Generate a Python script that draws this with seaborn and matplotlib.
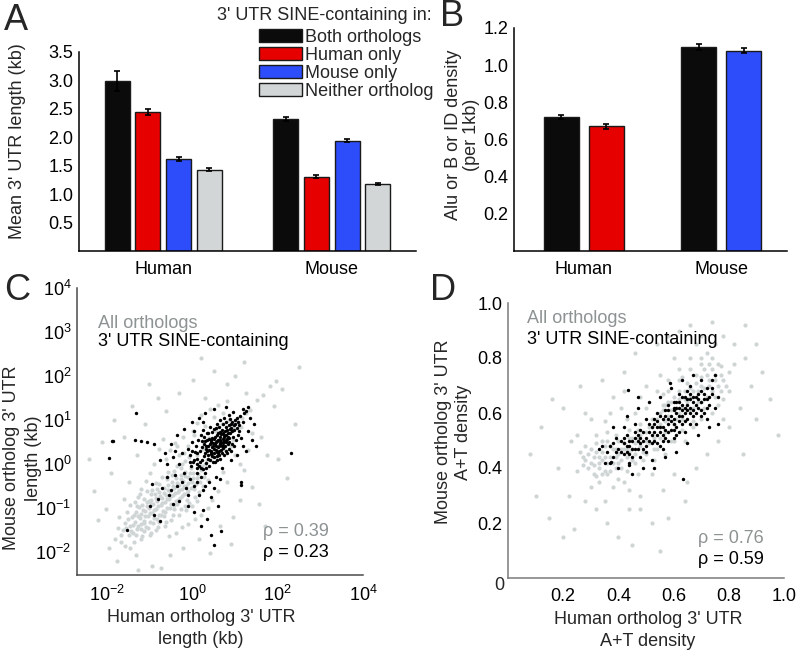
import numpy as np
import pandas as pd
import seaborn as sns
from matplotlib import pyplot as plt
from matplotlib.patches import Patch
from matplotlib.ticker import FixedLocator, LogLocator, NullLocator, NullFormatter

sns.set_theme(style='white')
plt.rcParams['font.family'] = ['Liberation Sans', 'DejaVu Sans']
plt.rcParams['mathtext.default'] = 'regular'

# Panel A: mean 3' UTR length (kb)
species = ['Human', 'Mouse']
groups = ['Both orthologs', 'Human only', 'Mouse only', 'Neither ortholog']
colors = ['#0b0b0b', '#e60000', '#2d4cfa', '#d3d6d6']
length_mean = {'Human': [2.99, 2.44, 1.61, 1.43], 'Mouse': [2.32, 1.31, 1.94, 1.18]}
length_err = {'Human': [0.18, 0.05, 0.035, 0.03], 'Mouse': [0.04, 0.03, 0.03, 0.02]}

# Panel B: SINE density (per 1kb)
b_groups = ['Both orthologs', 'Species only']
density_mean = {'Human': [0.72, 0.67], 'Mouse': [1.098, 1.077]}
density_err = {'Human': [0.01, 0.012], 'Mouse': [0.015, 0.014]}

# Panel C: log10 3' UTR lengths (human, mouse)
c_all = [(-1.62, -1.50), (-1.57, -1.33), (-1.49, -1.62), (-1.46, -1.41), (-1.41, -1.21), (-1.39, -1.56),
         (-1.34, -1.31), (-1.31, -1.08), (-1.29, -1.47), (-1.27, -1.19), (-1.24, -0.98), (-1.21, -1.36),
         (-1.19, -1.13), (-1.17, -0.94), (-1.14, -1.29), (-1.11, -1.06), (-1.09, -1.42), (-1.07, -0.87),
         (-1.04, -1.19), (-1.01, -0.99), (-0.99, -1.31), (-0.97, -0.81), (-0.94, -1.12), (-0.92, -0.91),
         (-0.89, -1.23), (-0.87, -0.69), (-0.84, -1.02), (-0.82, -0.84), (-0.79, -1.16), (-0.77, -0.63),
         (-0.74, -0.93), (-0.72, -0.77), (-0.69, -1.06), (-0.67, -0.54), (-0.64, -0.86), (-0.62, -0.71),
         (-0.59, -0.99), (-0.57, -0.47), (-0.54, -0.79), (-0.52, -0.61), (-0.49, -0.91), (-0.47, -0.41),
         (-0.44, -0.71), (-0.42, -0.54), (-0.39, -0.83), (-0.37, -0.31), (-0.34, -0.63), (-0.32, -0.47),
         (-0.29, -0.76), (-0.27, -0.24), (-0.24, -0.56), (-0.21, -0.39), (-0.19, -0.69), (-0.17, -0.17),
         (-0.14, -0.49), (-0.11, -0.29), (-0.09, -0.61), (-0.04, -0.09), (-0.01, -0.41), (0.01, -0.21),
         (-1.71, -1.21), (-1.66, -1.76), (-1.47, -0.94), (-1.37, -1.77), (-1.26, -0.74), (-1.17, -1.63),
         (-1.06, -0.61), (-0.97, -1.56), (-0.86, -0.44), (-0.81, -1.43), (-0.71, -0.29), (-0.61, -1.31),
         (-0.56, -0.19), (-0.46, -1.16), (-0.36, -0.04), (-0.27, -1.03), (-0.16, 0.06), (-0.07, -0.88),
         (0.06, -0.74), (0.16, -0.63), (0.26, -0.49), (0.36, -0.37), (0.11, -0.31), (0.21, -0.14),
         (0.31, 0.01), (0.46, 0.16), (0.56, 0.29), (0.66, 0.46), (0.76, 0.59), (0.86, 0.76),
         (0.96, 0.84), (1.06, 0.96), (1.16, 1.04), (1.27, 1.17), (1.36, 1.23), (1.52, 1.46),
         (1.66, 1.58), (1.82, 1.77), (1.96, 1.88), (-0.61, 0.11), (-0.51, 0.31), (-0.41, 0.49),
         (-0.31, 0.21), (-0.21, 0.61), (-0.11, 0.41), (0.01, 0.76), (0.11, 0.94), (0.21, 1.11),
         (0.31, 0.86), (0.41, 1.24), (0.51, 1.06), (0.61, 1.34), (0.71, 1.16), (0.81, 1.44),
         (0.91, 0.41), (1.01, 0.21), (1.11, 0.01), (1.21, -0.14), (1.31, 0.31), (1.41, 0.71),
         (0.71, -0.19), (0.81, -0.41), (0.61, -0.61), (0.46, -0.81), (0.36, -0.99), (0.21, -1.16),
         (0.06, -1.24), (-0.09, -1.36), (-0.24, -1.44), (-0.39, -1.56), (-0.54, -1.64), (-0.89, 0.01),
         (-0.99, -0.21), (-1.09, -0.39), (-1.19, -0.56), (-1.29, 0.21), (-1.49, -0.41), (-1.59, -0.79),
         (-0.69, 0.56), (-0.79, 0.34), (-2.41, 0.11), (-2.31, -0.61), (-2.21, -1.26), (-2.11, 0.51),
         (-1.94, -1.91), (-1.91, -0.21), (-1.84, 1.01), (-1.76, -2.21), (-1.61, 0.61), (-1.41, 1.31),
         (-1.31, -2.06), (-1.11, 0.91), (-0.94, -2.31), (-0.81, 1.51), (-0.74, -2.36), (-0.61, 1.21),
         (-0.51, -2.06), (-0.31, 1.61), (-0.21, -1.91), (0.01, 1.91), (0.16, -1.71), (0.31, 1.51),
         (0.41, -2.01), (0.51, 2.11), (0.66, -1.41), (0.81, 1.81), (0.96, -1.21), (1.01, 2.01),
         (1.11, -0.81), (1.26, 1.61), (1.41, -0.51), (1.56, -0.91), (1.61, 0.61), (1.76, 0.21),
         (1.91, 1.31), (2.01, 0.11), (2.11, 1.71), (2.21, -0.31), (2.41, 0.91), (1.71, -1.41),
         (2.51, 2.21), (0.91, -1.81), (-1.01, 1.81), (-2.01, -1.01), (-1.26, -2.41), (0.21, 2.41),
         (1.21, 2.31), (-1.52, -1.08), (-1.33, -0.86), (-1.14, -1.52), (-0.96, -0.68), (-0.77, -1.31),
         (-0.58, -0.34), (-0.43, -1.02), (-0.26, -0.09), (-0.12, -0.81), (0.04, -0.56), (-0.66, -1.18),
         (-0.83, -0.56), (-1.02, -0.84), (-1.22, -0.68), (-0.48, -0.25), (-0.35, -0.9), (-0.18, -0.95),
         (-1.55, -1.45), (-1.50, -1.25), (-1.44, -1.52), (-1.38, -1.38), (-1.36, -1.15), (-1.32, -1.62),
         (-1.28, -1.40), (-1.23, -1.22), (-1.20, -1.48), (-1.16, -1.05), (-1.13, -1.35), (-1.10, -1.18),
         (-1.06, -0.95), (-1.03, -1.45), (-1.00, -1.12), (-0.96, -0.90), (-0.93, -1.35), (-0.90, -1.05),
         (-0.86, -0.78), (-0.83, -1.25), (-0.80, -0.95), (-0.76, -0.72), (-0.73, -1.15), (-0.70, -0.88),
         (-0.66, -0.65), (-0.63, -1.08), (-0.60, -0.80), (-0.56, -0.58), (-0.53, -1.00), (-0.50, -0.72),
         (-0.46, -0.50), (-0.43, -0.92), (-0.40, -0.65), (-0.36, -0.42), (-0.33, -0.82), (-0.30, -0.58),
         (-0.26, -0.35), (-0.23, -0.72), (-0.20, -0.50), (-0.16, -0.28), (-0.13, -0.65), (-0.10, -0.42),
         (-0.06, -0.20), (-0.03, -0.55), (0.02, -0.32), (0.08, -0.45), (0.14, -0.22), (0.18, -0.40),
         (0.24, -0.05), (0.28, -0.30), (-1.30, -0.95), (-1.12, -0.80), (-0.95, -0.60), (-0.78, -0.45),
         (-0.60, -0.30), (-0.42, -0.15), (-0.25, 0.00), (-0.08, 0.15), (-1.20, -1.70), (-1.00, -1.60),
         (-0.85, -1.50), (-0.65, -1.40), (-0.50, -1.28), (-0.30, -1.15), (-0.15, -1.05), (0.00, -0.95),
         (0.12, -0.85), (-1.68, -1.60), (-1.75, -1.45), (-1.58, -1.85), (-1.45, -1.90), (-1.80, -1.70),
         (0.10, 0.20), (0.25, 0.35), (0.40, 0.60), (0.55, 0.75), (0.70, 0.90), (0.85, 1.00), (0.35, 0.10),
         (0.55, 0.15), (0.75, 0.35), (0.95, 0.55), (1.15, 0.85), (-0.20, 0.25), (-0.35, 0.40), (0.05, 0.65)]
c_sine = [(0.05, 0.10), (0.12, 0.25), (0.18, 0.05), (0.22, 0.38), (0.28, 0.18), (0.31, 0.52), (0.35, 0.30),
          (0.38, 0.12), (0.42, 0.45), (0.44, 0.22), (0.47, 0.60), (0.50, 0.35), (0.52, 0.15), (0.55, 0.50),
          (0.58, 0.28), (0.60, 0.70), (0.62, 0.42), (0.65, 0.55), (0.67, 0.32), (0.70, 0.78), (0.72, 0.48),
          (0.74, 0.62), (0.77, 0.40), (0.80, 0.85), (0.82, 0.58), (0.84, 0.70), (0.87, 0.50), (0.90, 0.92),
          (0.93, 0.75), (0.96, 0.62), (1.00, 1.00), (1.04, 0.82), (1.08, 0.95), (1.12, 1.10), (0.15, -0.05),
          (0.25, -0.12), (0.32, 0.02), (0.40, -0.05), (0.48, 0.05), (0.57, 0.10), (0.63, 0.20), (0.70, 0.25),
          (0.78, 0.30), (0.86, 0.35), (0.94, 0.45), (1.02, 0.55), (0.08, 0.40), (0.14, 0.55), (0.20, 0.65),
          (0.26, 0.78), (0.34, 0.70), (0.41, 0.85), (0.50, 0.80), (0.57, 0.92), (0.66, 1.00), (0.75, 1.05),
          (0.85, 1.12), (0.95, 1.18), (-0.05, 0.20), (-0.10, 0.35), (-0.02, -0.05), (0.00, 0.50),
          (0.10, -0.20), (0.20, -0.30), (0.30, -0.20), (0.36, 0.42), (0.46, 0.38), (0.53, 0.62), (0.61, 0.55),
          (0.68, 0.68), (0.73, 0.36), (0.79, 0.65), (0.88, 0.80), (0.98, 0.88), (0.39, 0.58), (0.43, 0.28),
          (0.49, 0.48), (0.56, 0.40), (0.64, 0.45), (0.71, 0.58), (0.27, 0.45), (0.24, 0.10), (0.33, 0.35),
          (0.59, 0.18), (0.66, 0.72), (0.83, 0.45), (1.10, 0.75), (1.15, 0.60), (1.20, 0.40), (1.25, 1.20),
          (-0.30, 0.00), (-0.40, -0.25), (-0.25, -0.40), (-0.15, -0.55), (-0.05, -0.35), (0.05, -0.50),
          (0.15, -0.70), (0.25, -0.60), (0.40, -0.40), (0.55, -0.30), (0.70, -0.10), (0.90, 0.10),
          (1.05, 0.20), (1.30, 0.75), (1.40, 0.55), (1.50, 0.40), (-0.50, 0.45), (-0.35, 0.65), (-0.20, 0.80),
          (0.00, 0.95), (0.15, 1.05), (0.30, 1.15), (-0.60, -0.30), (-0.70, -0.55), (-0.55, -0.70),
          (-0.45, -0.90), (-0.30, -0.85), (-0.10, -0.95), (0.05, -1.10), (0.25, -1.05), (0.45, -0.75),
          (0.60, -0.95), (-0.80, -0.80), (-0.95, -0.45), (-0.65, 0.25), (-0.90, 0.45), (-1.05, 0.50),
          (-1.20, 0.52), (-1.35, 0.55), (-0.75, 0.10), (-0.45, 0.15), (0.80, 1.30), (0.50, 1.25),
          (1.15, -0.40), (0.35, -1.25), (0.10, -0.10), (-1.31, 1.17), (-1.88, 0.53), (-1.96, 0.13),
          (-1.85, 0.52), (2.31, 0.26), (0.51, -1.84), (-1.53, -1.50), (0.67, -1.52), (1.14, -0.48),
          (1.22, 1.15), (-0.90, -1.15), (-0.75, -1.30), (0.20, -1.40), (0.45, -1.60), (-1.00, -0.95),
          (0.30, 0.25), (0.33, 0.40), (0.37, 0.20), (0.40, 0.32), (0.43, 0.50), (0.45, 0.30), (0.48, 0.42),
          (0.51, 0.25), (0.53, 0.45), (0.56, 0.33), (0.59, 0.52), (0.61, 0.38), (0.64, 0.62), (0.66, 0.48),
          (0.69, 0.40), (0.71, 0.70), (0.74, 0.52), (0.76, 0.75), (0.78, 0.55), (0.81, 0.78), (0.83, 0.62),
          (0.86, 0.88), (0.89, 0.70), (0.91, 0.82), (0.94, 0.95), (0.97, 0.78), (1.01, 0.92), (1.05, 1.05),
          (0.45, 0.55), (0.52, 0.58), (0.58, 0.65), (0.62, 0.30), (0.68, 0.50), (0.72, 0.42), (0.75, 0.65),
          (0.80, 0.50), (0.85, 0.60), (0.42, 0.10), (0.47, 0.18), (0.53, 0.05), (0.35, 0.55), (0.28, 0.62),
          (0.22, 0.52), (0.18, 0.30), (0.12, 0.12), (0.07, 0.28), (0.02, 0.05), (0.38, 0.70), (0.46, 0.72),
          (0.55, 0.82), (0.63, 0.85), (0.71, 0.92), (0.79, 0.95), (0.88, 1.02), (0.60, 0.25), (0.65, 0.12),
          (0.75, 0.20), (0.82, 0.25), (0.90, 0.30), (0.98, 0.40), (1.06, 0.65), (1.10, 0.88), (1.18, 0.95),
          (1.20, 1.25), (1.30, 1.30), (0.20, -0.10), (0.10, 0.00), (0.00, 0.30), (-0.05, 0.05), (0.32, -0.08),
          (-0.20, -0.20), (-0.35, -0.50), (-0.10, -0.70), (0.10, -0.40), (0.30, -0.50), (0.50, -0.55),
          (0.65, -0.35), (-0.50, -0.60), (-0.60, 0.00), (-0.25, 0.25), (-0.40, 0.30), (0.05, 0.75),
          (0.25, 0.95), (1.35, 1.05), (1.45, 0.90), (1.25, 0.30)]

# Panel D: A+T density (human, mouse)
d_all = [(0.30, 0.42), (0.32, 0.46), (0.33, 0.40), (0.34, 0.50), (0.35, 0.44), (0.36, 0.38), (0.37, 0.48),
         (0.38, 0.42), (0.39, 0.52), (0.40, 0.45), (0.41, 0.40), (0.42, 0.49), (0.43, 0.44), (0.44, 0.54),
         (0.45, 0.47), (0.46, 0.42), (0.47, 0.51), (0.48, 0.56), (0.49, 0.46), (0.50, 0.53), (0.51, 0.49),
         (0.52, 0.58), (0.53, 0.51), (0.54, 0.47), (0.55, 0.56), (0.56, 0.61), (0.57, 0.53), (0.58, 0.59),
         (0.59, 0.64), (0.60, 0.56), (0.61, 0.62), (0.62, 0.68), (0.63, 0.58), (0.64, 0.65), (0.65, 0.71),
         (0.66, 0.61), (0.67, 0.68), (0.68, 0.74), (0.69, 0.64), (0.70, 0.70), (0.71, 0.76), (0.72, 0.66),
         (0.73, 0.72), (0.74, 0.68), (0.75, 0.74), (0.76, 0.70), (0.77, 0.77), (0.31, 0.38), (0.29, 0.45),
         (0.27, 0.41), (0.33, 0.35), (0.28, 0.48), (0.36, 0.53), (0.40, 0.36), (0.43, 0.58), (0.47, 0.38),
         (0.50, 0.62), (0.53, 0.43), (0.56, 0.67), (0.60, 0.50), (0.63, 0.73), (0.67, 0.55), (0.70, 0.78),
         (0.74, 0.60), (0.78, 0.72), (0.78, 0.65), (0.80, 0.75), (0.72, 0.82), (0.66, 0.80), (0.62, 0.76),
         (0.58, 0.72), (0.54, 0.68), (0.50, 0.45), (0.46, 0.60), (0.42, 0.35), (0.38, 0.33), (0.35, 0.57),
         (0.32, 0.52), (0.26, 0.46), (0.25, 0.39), (0.30, 0.33), (0.44, 0.32), (0.52, 0.38), (0.57, 0.45),
         (0.64, 0.50), (0.70, 0.58), (0.76, 0.63), (0.80, 0.68), (0.82, 0.78), (0.75, 0.85), (0.68, 0.85),
         (0.60, 0.80), (0.55, 0.74), (0.48, 0.66), (0.41, 0.62), (0.37, 0.60), (0.34, 0.43), (0.39, 0.47),
         (0.45, 0.51), (0.51, 0.55), (0.57, 0.63), (0.62, 0.60), (0.66, 0.66), (0.70, 0.64), (0.73, 0.78),
         (0.10, 0.30), (0.12, 0.55), (0.15, 0.22), (0.18, 0.40), (0.20, 0.62), (0.22, 0.30), (0.23, 0.50),
         (0.24, 0.18), (0.26, 0.70), (0.28, 0.28), (0.30, 0.58), (0.32, 0.25), (0.34, 0.72), (0.36, 0.20),
         (0.38, 0.66), (0.40, 0.15), (0.42, 0.75), (0.44, 0.25), (0.46, 0.82), (0.48, 0.30), (0.50, 0.70),
         (0.52, 0.20), (0.54, 0.85), (0.56, 0.32), (0.58, 0.88), (0.60, 0.38), (0.62, 0.90), (0.64, 0.28),
         (0.66, 0.92), (0.68, 0.40), (0.70, 0.88), (0.72, 0.45), (0.74, 0.93), (0.76, 0.50), (0.78, 0.88),
         (0.80, 0.55), (0.82, 0.85), (0.84, 0.62), (0.86, 0.80), (0.88, 0.70), (0.90, 0.58), (0.92, 0.75),
         (0.95, 0.65), (0.98, 0.52), (0.85, 0.45), (0.20, 0.15), (0.16, 0.65), (0.08, 0.45), (0.55, 0.10),
         (0.45, 0.12), (0.58, 0.22), (0.86, 0.92), (0.65, 0.35), (0.28, 0.60), (0.42, 0.68), (0.35, 0.28),
         (0.25, 0.52), (0.48, 0.25), (0.78, 0.58), (0.90, 0.85),
         (0.29, 0.40), (0.31, 0.44), (0.32, 0.49), (0.33, 0.42), (0.34, 0.46), (0.35, 0.39), (0.36, 0.50),
         (0.37, 0.44), (0.38, 0.47), (0.39, 0.40), (0.40, 0.50), (0.41, 0.43), (0.42, 0.47), (0.43, 0.39),
         (0.44, 0.51), (0.45, 0.43), (0.46, 0.45), (0.47, 0.54), (0.48, 0.48), (0.49, 0.43), (0.31, 0.41),
         (0.33, 0.44), (0.35, 0.48), (0.37, 0.39), (0.39, 0.44), (0.41, 0.47), (0.28, 0.43), (0.30, 0.47),
         (0.27, 0.44), (0.32, 0.37), (0.34, 0.38), (0.36, 0.42), (0.40, 0.42), (0.43, 0.47), (0.55, 0.60),
         (0.57, 0.57), (0.59, 0.61), (0.61, 0.58), (0.63, 0.62), (0.65, 0.64), (0.67, 0.62), (0.69, 0.68),
         (0.71, 0.69), (0.73, 0.70), (0.75, 0.72), (0.77, 0.74), (0.72, 0.74), (0.74, 0.76), (0.76, 0.78),
         (0.70, 0.73), (0.68, 0.71), (0.66, 0.69), (0.64, 0.68), (0.62, 0.65), (0.60, 0.66), (0.58, 0.64),
         (0.56, 0.63), (0.54, 0.58), (0.52, 0.55), (0.50, 0.50), (0.48, 0.52), (0.46, 0.49), (0.44, 0.46),
         (0.53, 0.47), (0.55, 0.51), (0.59, 0.50), (0.63, 0.54), (0.67, 0.57), (0.71, 0.62), (0.75, 0.66),
         (0.77, 0.68), (0.79, 0.70), (0.74, 0.80), (0.70, 0.80), (0.66, 0.76), (0.62, 0.72), (0.58, 0.68)]
d_sine = [(0.40, 0.47), (0.41, 0.50), (0.42, 0.45), (0.43, 0.52), (0.44, 0.48), (0.45, 0.44), (0.46, 0.51),
          (0.47, 0.47), (0.48, 0.54), (0.49, 0.50), (0.50, 0.46), (0.51, 0.53), (0.52, 0.49), (0.53, 0.56),
          (0.54, 0.52), (0.55, 0.48), (0.56, 0.55), (0.57, 0.59), (0.58, 0.53), (0.59, 0.57), (0.60, 0.61),
          (0.61, 0.55), (0.62, 0.59), (0.63, 0.63), (0.64, 0.57), (0.65, 0.61), (0.66, 0.65), (0.67, 0.59),
          (0.68, 0.63), (0.69, 0.67), (0.70, 0.61), (0.71, 0.65), (0.72, 0.69), (0.73, 0.63), (0.74, 0.67),
          (0.75, 0.62), (0.37, 0.48), (0.38, 0.44), (0.39, 0.51), (0.36, 0.46), (0.35, 0.42), (0.34, 0.48),
          (0.33, 0.47), (0.37, 0.42), (0.42, 0.55), (0.44, 0.42), (0.46, 0.56), (0.48, 0.44), (0.50, 0.58),
          (0.52, 0.43), (0.54, 0.60), (0.56, 0.47), (0.58, 0.63), (0.60, 0.51), (0.62, 0.67), (0.64, 0.53),
          (0.66, 0.70), (0.68, 0.56), (0.70, 0.72), (0.72, 0.58), (0.74, 0.72), (0.76, 0.66), (0.73, 0.55),
          (0.69, 0.52), (0.65, 0.49), (0.61, 0.46), (0.57, 0.44), (0.53, 0.40), (0.49, 0.40), (0.45, 0.38),
          (0.43, 0.59), (0.47, 0.62), (0.51, 0.64), (0.55, 0.66), (0.59, 0.69), (0.63, 0.72), (0.67, 0.74),
          (0.71, 0.60), (0.60, 0.58), (0.62, 0.62), (0.64, 0.60), (0.66, 0.62), (0.61, 0.64), (0.63, 0.56),
          (0.65, 0.58), (0.67, 0.64), (0.58, 0.56), (0.56, 0.58), (0.54, 0.55), (0.52, 0.52), (0.50, 0.51),
          (0.48, 0.49), (0.46, 0.47), (0.44, 0.45), (0.42, 0.49), (0.57, 0.51), (0.55, 0.53), (0.53, 0.50),
          (0.59, 0.54), (0.61, 0.52), (0.63, 0.66), (0.65, 0.68), (0.68, 0.60), (0.70, 0.64), (0.72, 0.62),
          (0.60, 0.64), (0.58, 0.61), (0.634, 0.359), (0.435, 0.684), (0.586, 0.708), (0.374, 0.423),
          (0.40, 0.40), (0.38, 0.55), (0.76, 0.56), (0.75, 0.74), (0.47, 0.66), (0.44, 0.41),
          (0.41, 0.46), (0.43, 0.48), (0.45, 0.50), (0.47, 0.52), (0.49, 0.47), (0.51, 0.50), (0.53, 0.53),
          (0.55, 0.55), (0.57, 0.54), (0.59, 0.59), (0.61, 0.60), (0.63, 0.59), (0.65, 0.63), (0.67, 0.61),
          (0.69, 0.62), (0.71, 0.67), (0.73, 0.66), (0.62, 0.57), (0.64, 0.62), (0.66, 0.60), (0.60, 0.56),
          (0.58, 0.58), (0.56, 0.52), (0.54, 0.57), (0.52, 0.55), (0.50, 0.48), (0.48, 0.51), (0.46, 0.53),
          (0.44, 0.50), (0.42, 0.51), (0.39, 0.46), (0.38, 0.49), (0.61, 0.62), (0.63, 0.61), (0.65, 0.65),
          (0.67, 0.66), (0.69, 0.65), (0.62, 0.64), (0.64, 0.66), (0.66, 0.67), (0.68, 0.66), (0.70, 0.68),
          (0.72, 0.65), (0.74, 0.69), (0.60, 0.62), (0.57, 0.61), (0.55, 0.59), (0.53, 0.58), (0.51, 0.56),
          (0.49, 0.53), (0.47, 0.50), (0.45, 0.47), (0.43, 0.46), (0.58, 0.50), (0.62, 0.53), (0.66, 0.56),
          (0.70, 0.59), (0.56, 0.50), (0.54, 0.49), (0.60, 0.54)]

rho_c = ['ρ = 0.39', 'ρ = 0.23']
rho_d = ['ρ = 0.76', 'ρ = 0.59']

W, H = 796, 650
FS = 13
GRAY_PT = '#cfd4d4'
GRAY_TXT = '#8d9292'

fig = plt.figure(figsize=(W / 100, H / 100), dpi=100)


def px_axes(left, top, right, bottom):
  return fig.add_axes([left / W, 1 - bottom / H, (right - left) / W, (bottom - top) / H])


def style_axes(ax, color='black'):
  for side in ['top', 'right']:
    ax.spines[side].set_visible(False)
  for side in ['left', 'bottom']:
    ax.spines[side].set_color(color)
    ax.spines[side].set_linewidth(1.1)
  ax.tick_params(direction='in', length=4, width=1, color=color, labelsize=FS, labelcolor='black', pad=4)
  ax.tick_params(which='minor', direction='in', length=2, width=0.7, color=color)


def errbars(ax, errs, hue_levels):
  for container, lvl in zip(ax.containers, hue_levels):
    i = hue_levels.index(lvl)
    for bar, sp in zip(container, species):
      ax.errorbar(bar.get_x() + bar.get_width() / 2, bar.get_height(), yerr=errs[sp][i],
                  fmt='none', ecolor='black', elinewidth=1.2, capsize=2.5, capthick=1.2, zorder=5)


# ---- A ----
axA = px_axes(79, 52, 416, 251)
dfA = pd.DataFrame([(sp, g, length_mean[sp][i]) for sp in species for i, g in enumerate(groups)],
                   columns=['species', 'group', 'mean'])
sns.barplot(data=dfA, x='species', y='mean', hue='group', hue_order=groups, palette=colors, saturation=1,
            width=0.73, gap=0.19, edgecolor='#1a1a1a', linewidth=1, errorbar=None, legend=False, ax=axA)
errbars(axA, length_err, groups)
axA.set_xlim(-0.5, 1.5)
axA.set_ylim(0, 3.5)
axA.set_yticks([0.5, 1.0, 1.5, 2.0, 2.5, 3.0, 3.5])
axA.set_yticklabels(['0.5', '1.0', '1.5', '2.0', '2.5', '3.0', '3.5'])
axA.set_xlabel('')
axA.set_ylabel('')
style_axes(axA)
axA.tick_params(axis='x', pad=7)
fig.text(18 / W, 1 - 141 / H, "Mean 3' UTR length (kb)", rotation=90, ha='center', va='center', fontsize=FS)

fig.text(217 / W, 1 - 15 / H, "3' UTR SINE-containing in:", ha='left', va='center', fontsize=FS)
handles = [Patch(facecolor=c, edgecolor='#1a1a1a', linewidth=1) for c in colors]
fig.legend(handles, groups, loc='upper left', bbox_to_anchor=(259 / W, 1 - 29 / H), frameon=False,
           fontsize=FS, handlelength=2.4, handleheight=0.75, handletextpad=0.15, labelspacing=0.05,
           borderpad=0, borderaxespad=0)

# ---- B ----
axB = px_axes(514, 28, 787, 251)
dfB = pd.DataFrame([(sp, g, density_mean[sp][i]) for sp in species for i, g in enumerate(b_groups)],
                   columns=['species', 'group', 'mean'])
sns.barplot(data=dfB, x='species', y='mean', hue='group', hue_order=b_groups, saturation=1,
            palette=[colors[0], colors[1]], width=0.656, gap=0.22, edgecolor='#1a1a1a', linewidth=1,
            errorbar=None, legend=False, ax=axB)
# species-specific bars: human red, mouse blue
for bar, c in zip(axB.containers[1], [colors[1], colors[2]]):
  bar.set_facecolor(c)
errbars(axB, density_err, b_groups)
axB.set_xlim(-0.51, 1.48)
axB.set_ylim(0, 1.2)
axB.set_yticks([0.2, 0.4, 0.6, 0.8, 1.0, 1.2])
axB.set_yticklabels(['0.2', '0.4', '0.6', '0.8', '1.0', '1.2'])
axB.set_xlabel('')
axB.set_ylabel('')
style_axes(axB)
axB.tick_params(axis='x', pad=7)
fig.text(453 / W, 1 - 135 / H, 'Alu or B or ID density', rotation=90, ha='center', va='center', fontsize=FS)
fig.text(472 / W, 1 - 135 / H, '(per 1kb)', rotation=90, ha='center', va='center', fontsize=FS)

# ---- C ----
axC = px_axes(77, 288, 363, 575)
ca = np.array(c_all)
cs = np.array(c_sine)
sns.scatterplot(x=10 ** ca[:, 0], y=10 ** ca[:, 1], color=GRAY_PT, s=9, linewidth=0, ax=axC)
sns.scatterplot(x=10 ** cs[:, 0], y=10 ** cs[:, 1], color='black', s=6, linewidth=0, ax=axC)
axC.set_xscale('log')
axC.set_yscale('log')
axC.set_xlim(10 ** -2.7, 1e4)
axC.set_ylim(10 ** -2.52, 1e4)
axC.xaxis.set_major_locator(FixedLocator([1e-2, 1, 1e2, 1e4]))
axC.xaxis.set_minor_locator(NullLocator())
axC.yaxis.set_major_locator(FixedLocator([1e-2, 1e-1, 1, 1e1, 1e2, 1e3, 1e4]))
axC.yaxis.set_minor_locator(LogLocator(base=10, subs=np.arange(2, 10), numticks=20))
axC.yaxis.set_minor_formatter(NullFormatter())
style_axes(axC, '#4a4a4a')
axC.tick_params(axis='x', pad=7)
axC.text(0.073, 0.878, 'All orthologs', color=GRAY_TXT, fontsize=FS, va='center', transform=axC.transAxes)
axC.text(0.073, 0.812, "3' UTR SINE-containing", color='black', fontsize=FS, va='center',
         transform=axC.transAxes)
axC.text(0.65, 0.15, rho_c[0], color=GRAY_TXT, fontsize=FS, va='center', transform=axC.transAxes)
axC.text(0.65, 0.077, rho_c[1], color='black', fontsize=FS, va='center', transform=axC.transAxes)
fig.text(12 / W, 1 - 458 / H, "Mouse ortholog 3' UTR", rotation=90, ha='center', va='center', fontsize=FS)
fig.text(33 / W, 1 - 458 / H, 'length (kb)', rotation=90, ha='center', va='center', fontsize=FS)
fig.text(201 / W, 1 - 618 / H, "Human ortholog 3' UTR", ha='center', va='center', fontsize=FS)
fig.text(201 / W, 1 - 639 / H, 'length (kb)', ha='center', va='center', fontsize=FS)

# ---- D ----
axD = px_axes(508, 303, 784, 578)
da = np.array(d_all)
ds = np.array(d_sine)
sns.scatterplot(x=da[:, 0], y=da[:, 1], color=GRAY_PT, s=9, linewidth=0, ax=axD)
sns.scatterplot(x=ds[:, 0], y=ds[:, 1], color='black', s=6, linewidth=0, ax=axD)
axD.set_xlim(0, 1)
axD.set_ylim(0, 1)
ticks = [0.2, 0.4, 0.6, 0.8, 1.0]
axD.set_xticks(ticks)
axD.set_xticklabels(['0.2', '0.4', '0.6', '0.8', '1.0'])
axD.set_yticks(ticks)
axD.set_yticklabels(['0.2', '0.4', '0.6', '0.8', '1.0'])
style_axes(axD, '#7a7a7a')
axD.tick_params(axis='x', pad=7)
axD.text(-0.033, -0.026, '0', fontsize=FS, ha='center', va='center')
axD.text(0.069, 0.942, 'All orthologs', color=GRAY_TXT, fontsize=FS, va='center', transform=axD.transAxes)
axD.text(0.069, 0.869, "3' UTR SINE-containing", color='black', fontsize=FS, va='center',
         transform=axD.transAxes)
axD.text(0.688, 0.142, rho_d[0], color=GRAY_TXT, fontsize=FS, va='center', transform=axD.transAxes)
axD.text(0.688, 0.069, rho_d[1], color='black', fontsize=FS, va='center', transform=axD.transAxes)
fig.text(443 / W, 1 - 432 / H, "Mouse ortholog 3' UTR", rotation=90, ha='center', va='center', fontsize=FS)
fig.text(463 / W, 1 - 432 / H, 'A+T density', rotation=90, ha='center', va='center', fontsize=FS)
fig.text(648 / W, 1 - 619 / H, "Human ortholog 3' UTR", ha='center', va='center', fontsize=FS)
fig.text(648 / W, 1 - 641 / H, 'A+T density', ha='center', va='center', fontsize=FS)

# panel letters
for letter, x, y in [('A', 4, 20), ('B', 440, 16), ('C', 4, 290), ('D', 430, 290)]:
  fig.text(x / W, 1 - y / H, letter, fontsize=26, ha='left', va='center')

fig.savefig('out.png', dpi=100)
